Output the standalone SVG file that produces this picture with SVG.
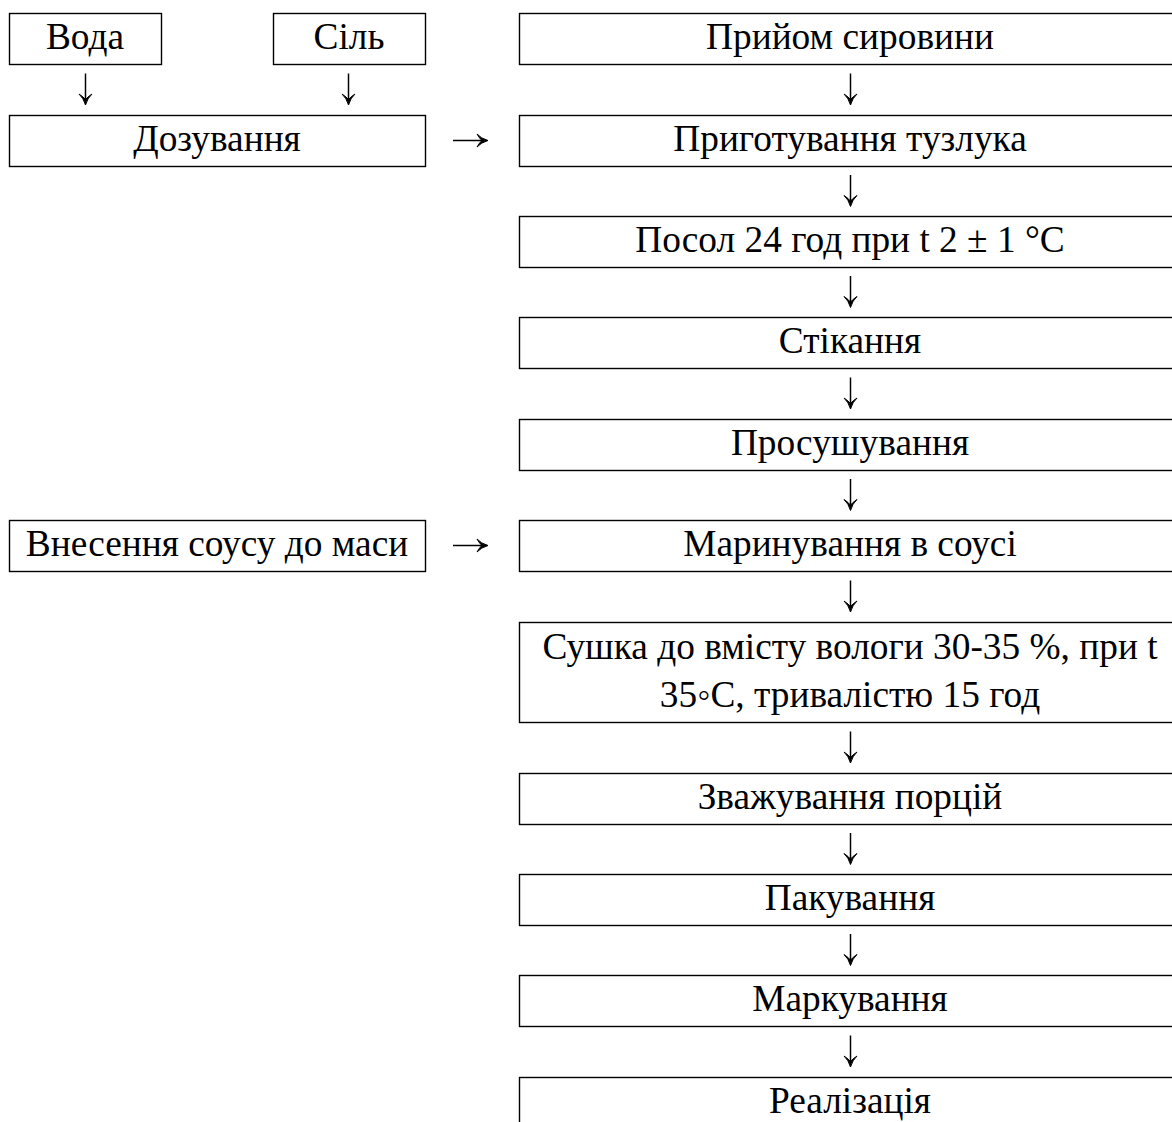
<svg xmlns="http://www.w3.org/2000/svg" width="1172" height="1122" viewBox="0 0 1172 1122">
<style>
rect{fill:#fff;stroke:#000;stroke-width:1.4}
text{font-family:"Liberation Serif","Times New Roman",serif;font-size:37.33px;fill:#000;text-anchor:middle}
.sh{fill:none;stroke:#000;stroke-width:1.5}
.hd{fill:#000;stroke:#000;stroke-width:1;stroke-linejoin:round}
</style>
<defs>
<g id="ad"><path class="sh" d="M0,-16 V13"/><path class="hd" d="M-6.5,4.5 Q-2,8.5 0,15.5 Q2,8.5 6.5,4.5 Q2,7.5 0,10 Q-2,7.5 -6.5,4.5 Z"/></g>
<g id="ar"><path class="sh" d="M-17.5,0 H15"/><path class="hd" d="M6.5,-6.5 Q10.5,-2 17.5,0 Q10.5,2 6.5,6.5 Q9,2 11.5,0 Q9,-2 6.5,-6.5 Z"/></g>
</defs>
<rect x="0" y="0" width="1172" height="1122" style="fill:#fff;stroke:none"/>
<g id="voda"><rect x="9.5" y="13.5" width="152" height="51"/><text x="85" y="49">Вода</text></g>
<g id="sil"><rect x="273.5" y="13.5" width="152" height="51"/><text x="349" y="49">Сіль</text></g>
<g id="dozuvannia"><rect x="9.5" y="115.5" width="416" height="51"/><text x="217" y="151">Дозування</text></g>
<g id="vnesennia"><rect x="9.5" y="520.5" width="416" height="51"/><text x="217" y="556">Внесення соусу до маси</text></g>
<g id="pryiom"><rect x="519.5" y="13.5" width="680" height="51"/><text x="850" y="49">Прийом сировини</text></g>
<g id="pryhotuvannia"><rect x="519.5" y="115.5" width="680" height="51"/><text x="850" y="151">Приготування тузлука</text></g>
<g id="posol"><rect x="519.5" y="216.5" width="680" height="51"/><text x="850" y="252">Посол 24 год при t 2 ± 1 °C</text></g>
<g id="stikannia"><rect x="519.5" y="317.5" width="680" height="51"/><text x="850" y="353">Стікання</text></g>
<g id="prosushuvannia"><rect x="519.5" y="419.5" width="680" height="51"/><text x="850" y="455">Просушування</text></g>
<g id="marynuvannia"><rect x="519.5" y="520.5" width="680" height="51"/><text x="850" y="556">Маринування в соусі</text></g>
<g id="sushka"><rect x="519.5" y="622.5" width="680" height="100"/><text x="850" y="659">Сушка до вмісту вологи 30-35 %, при t</text><text x="850" y="707">35◦C, тривалістю 15 год</text></g>
<g id="zvazhuvannia"><rect x="519.5" y="773.5" width="680" height="51"/><text x="850" y="809">Зважування порцій</text></g>
<g id="pakuvannia"><rect x="519.5" y="874.5" width="680" height="51"/><text x="850" y="910">Пакування</text></g>
<g id="markuvannia"><rect x="519.5" y="975.5" width="680" height="51"/><text x="850" y="1011">Маркування</text></g>
<g id="realizatsiia"><rect x="519.5" y="1077.5" width="680" height="80"/><text x="850" y="1113">Реалізація</text></g>
<g id="connectors">
<use href="#ad" x="85.5" y="89.5"/>
<use href="#ad" x="348.5" y="89.5"/>
<use href="#ar" x="470.5" y="140.5"/>
<use href="#ar" x="470.5" y="545.5"/>
<use href="#ad" x="850.5" y="89.5"/>
<use href="#ad" x="850.5" y="191"/>
<use href="#ad" x="850.5" y="292"/>
<use href="#ad" x="850.5" y="393.5"/>
<use href="#ad" x="850.5" y="495"/>
<use href="#ad" x="850.5" y="596.5"/>
<use href="#ad" x="850.5" y="747.5"/>
<use href="#ad" x="850.5" y="849"/>
<use href="#ad" x="850.5" y="950"/>
<use href="#ad" x="850.5" y="1051.5"/>
</g>
</svg>
